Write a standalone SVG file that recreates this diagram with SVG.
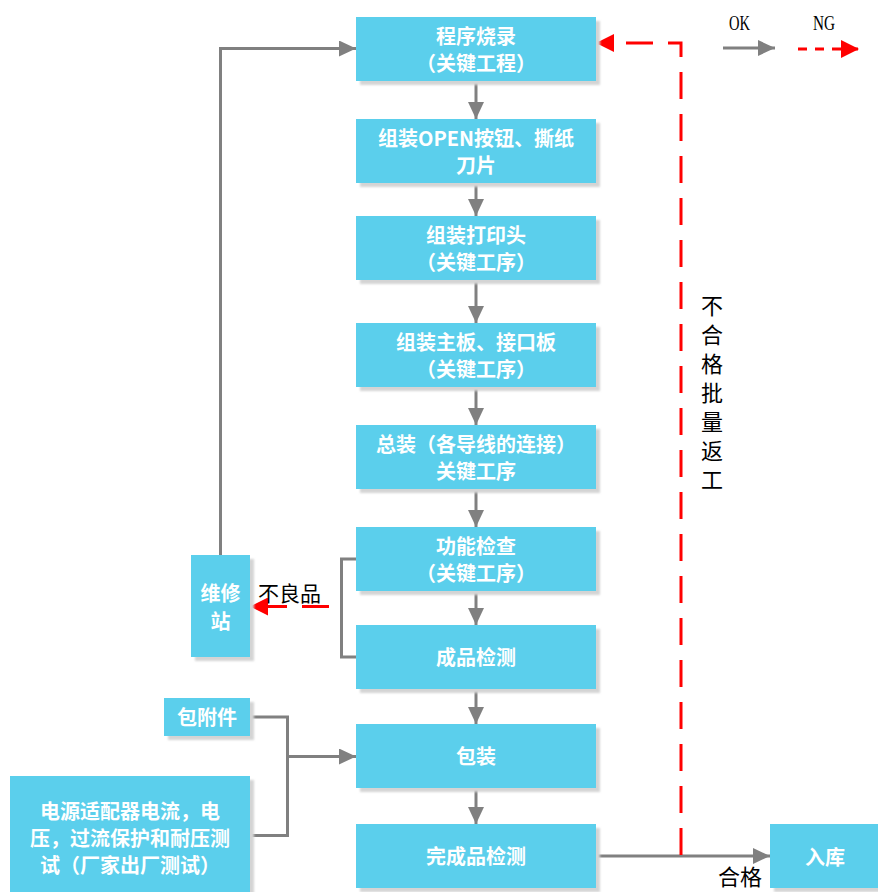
<svg xmlns="http://www.w3.org/2000/svg" width="878" height="892" viewBox="0 0 878 892">
<defs>
<style>
.box{fill:#5BCFEC}
.sh{fill:#d4d4d4;filter:url(#blur)}
.t{font-family:"Noto Sans CJK SC","Liberation Sans",sans-serif;font-weight:bold;font-size:20px;fill:#fff;text-anchor:middle}
.lab{font-family:"Noto Sans CJK SC","Liberation Sans",sans-serif;font-size:22px;fill:#000}
.g{stroke:#808080;stroke-width:3;fill:none}
.r{stroke:#ff0000;stroke-width:3;fill:none;stroke-dasharray:27 15}
.leg{font-family:"Liberation Serif",serif;font-size:22px;fill:#000}
</style>
<filter id="blur" x="-10%" y="-10%" width="120%" height="120%"><feGaussianBlur stdDeviation="1.2"/></filter>
<marker id="ag" markerUnits="userSpaceOnUse" markerWidth="17" markerHeight="16" refX="17" refY="8" orient="auto"><path d="M0,0 L17,8 L0,16 z" fill="#808080"/></marker>
<marker id="ar" markerUnits="userSpaceOnUse" markerWidth="18" markerHeight="18" refX="18" refY="9" orient="auto"><path d="M0,0 L18,9 L0,18 z" fill="#ff0000"/></marker>
</defs>
<rect width="878" height="892" fill="#fff"/>

<g id="connectors">
<path class="g" d="M220.5,555 V48.5 H356" marker-end="url(#ag)"/>
<line class="g" x1="476" y1="81" x2="476" y2="119" marker-end="url(#ag)"/>
<line class="g" x1="476" y1="183" x2="476" y2="216" marker-end="url(#ag)"/>
<line class="g" x1="476" y1="280" x2="476" y2="323" marker-end="url(#ag)"/>
<line class="g" x1="476" y1="387" x2="476" y2="425" marker-end="url(#ag)"/>
<line class="g" x1="476" y1="489" x2="476" y2="527" marker-end="url(#ag)"/>
<line class="g" x1="476" y1="591" x2="476" y2="625" marker-end="url(#ag)"/>
<line class="g" x1="476" y1="689" x2="476" y2="724" marker-end="url(#ag)"/>
<line class="g" x1="476" y1="788" x2="476" y2="824" marker-end="url(#ag)"/>
<path class="g" d="M356,559 H341.5 V657 H356"/>
<path class="g" d="M250,717 H287.5 V835.5 H250"/>
<line class="g" x1="287.5" y1="756.5" x2="356" y2="756.5" marker-end="url(#ag)"/>
<line class="g" x1="596" y1="856" x2="770" y2="856" marker-end="url(#ag)"/>
<path class="r" d="M681,855 V43 H596" marker-end="url(#ar)"/>
<line class="r" x1="329" y1="606.5" x2="250" y2="606.5" marker-end="url(#ar)"/>
<line class="g" x1="723" y1="48" x2="775" y2="48" marker-end="url(#ag)"/>
<line class="r" style="stroke-dasharray:9 8" x1="798" y1="49" x2="859" y2="49" marker-end="url(#ar)"/>
</g>

<g id="n1"><rect class="sh" x="360" y="21" width="240" height="64"/><rect class="box" x="356" y="17" width="240" height="64"/><text class="t" x="476" y="44">程序烧录</text><text class="t" x="476" y="71">（关键工程）</text></g>
<g id="n2"><rect class="sh" x="360" y="123" width="240" height="64"/><rect class="box" x="356" y="119" width="240" height="64"/><text class="t" x="476" y="146">组装OPEN按钮、撕纸</text><text class="t" x="476" y="173">刀片</text></g>
<g id="n3"><rect class="sh" x="360" y="220" width="240" height="64"/><rect class="box" x="356" y="216" width="240" height="64"/><text class="t" x="476" y="243">组装打印头</text><text class="t" x="476" y="270">（关键工序）</text></g>
<g id="n4"><rect class="sh" x="360" y="327" width="240" height="64"/><rect class="box" x="356" y="323" width="240" height="64"/><text class="t" x="476" y="350">组装主板、接口板</text><text class="t" x="476" y="377">（关键工序）</text></g>
<g id="n5"><rect class="sh" x="360" y="429" width="240" height="64"/><rect class="box" x="356" y="425" width="240" height="64"/><text class="t" x="476" y="452">总装（各导线的连接）</text><text class="t" x="476" y="479">关键工序</text></g>
<g id="n6"><rect class="sh" x="360" y="531" width="240" height="64"/><rect class="box" x="356" y="527" width="240" height="64"/><text class="t" x="476" y="554">功能检查</text><text class="t" x="476" y="581">（关键工序）</text></g>
<g id="n7"><rect class="sh" x="360" y="629" width="240" height="64"/><rect class="box" x="356" y="625" width="240" height="64"/><text class="t" x="476" y="665">成品检测</text></g>
<g id="n8"><rect class="sh" x="360" y="728" width="240" height="64"/><rect class="box" x="356" y="724" width="240" height="64"/><text class="t" x="476" y="764">包装</text></g>
<g id="n9"><rect class="sh" x="360" y="828" width="240" height="64"/><rect class="box" x="356" y="824" width="240" height="64"/><text class="t" x="476" y="864">完成品检测</text></g>
<g id="n10"><rect class="sh" x="774" y="828" width="108" height="64"/><rect class="box" x="770" y="824" width="108" height="64"/><text class="t" x="825" y="865">入库</text></g>
<g id="n11"><rect class="sh" x="195" y="559" width="59" height="102"/><rect class="box" x="191" y="555" width="59" height="102"/><text class="t" x="220.5" y="601">维修</text><text class="t" x="220.5" y="629">站</text></g>
<g id="n12"><rect class="sh" x="168" y="702" width="86" height="38"/><rect class="box" x="164" y="698" width="86" height="38"/><text class="t" x="207" y="725">包附件</text></g>
<g id="n13"><rect class="sh" x="14" y="780" width="240" height="116"/><rect class="box" x="10" y="776" width="240" height="116"/><text class="t" x="130" y="819">电源适配器电流，电</text><text class="t" x="130" y="846">压，过流保护和耐压测</text><text class="t" x="130" y="873">试（厂家出厂测试）</text></g>

<g id="labels">
<text class="lab" x="258" y="601" style="font-size:21px">不良品</text>
<text class="lab" x="718" y="885">合格</text>
<g class="lab" text-anchor="middle">
<text x="712" y="314">不</text><text x="712" y="343">合</text><text x="712" y="372">格</text><text x="712" y="401">批</text><text x="712" y="430">量</text><text x="712" y="459">返</text><text x="712" y="488">工</text>
</g>
<text class="leg" x="729" y="30" textLength="21" lengthAdjust="spacingAndGlyphs">OK</text>
<text class="leg" x="813" y="30" textLength="22" lengthAdjust="spacingAndGlyphs">NG</text>
</g>
</svg>
